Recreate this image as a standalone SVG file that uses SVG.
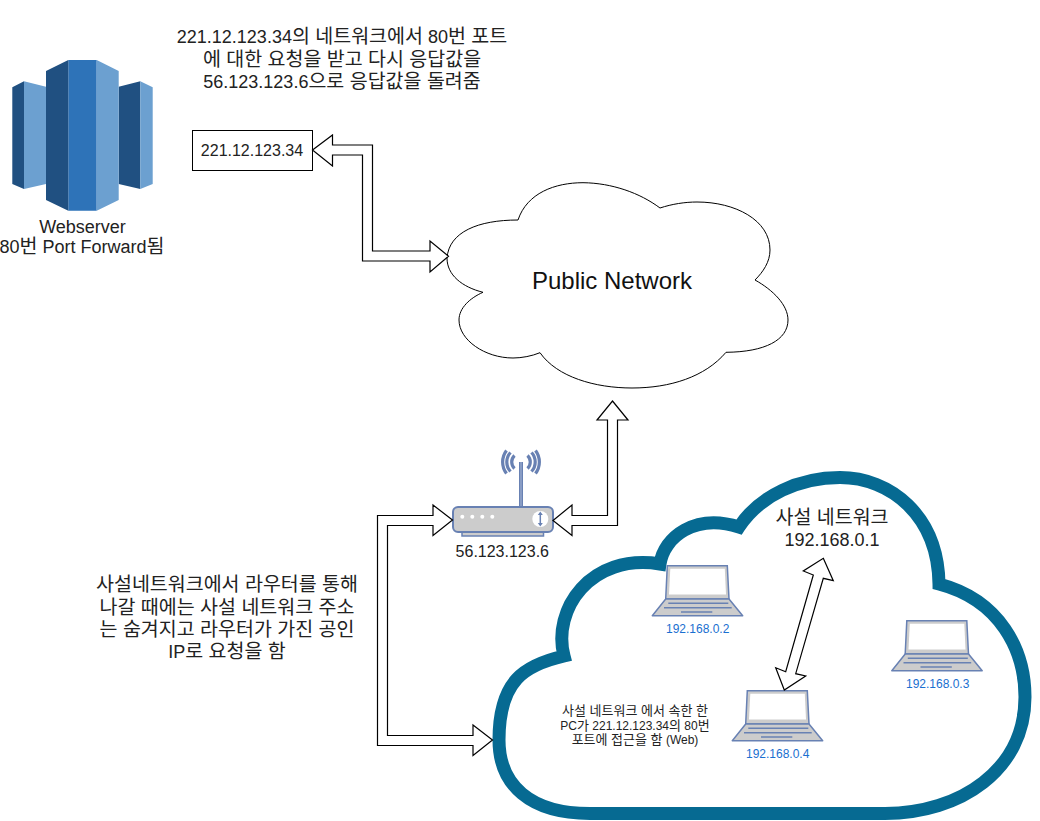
<svg xmlns="http://www.w3.org/2000/svg" width="1040" height="821" viewBox="0 0 1040 821">
<style>
text{font-family:"Liberation Sans","Noto Sans CJK KR",sans-serif;fill:#222;text-anchor:middle}
.t18{font-size:18px}.t16{font-size:16px}.t12{font-size:12px}.t24{font-size:24px;fill:#111}
.t18 .k{font-size:19.5px}.t12 .k{font-size:13px}
.ip{font-size:12px;fill:#1A6FD0}
.flex{fill:#fff;stroke:#000;stroke-width:1.2;stroke-linejoin:miter}
</style>
<defs>
<g id="laptop">
<path d="M15.3 .7H75.3L77 34H13.7Z" fill="#ccc" stroke="#6881B3" stroke-width="1.5"/>
<path d="M18.300 3.800H72.800L74 29.500H17Z" fill="#fff"/>
<path d="M13.7 34L.3 50.7H90.7L77 34Z" fill="#ccc" stroke="#6881B3" stroke-width="1.5" stroke-linejoin="round"/>
<path d="M16.3 38.3H76.3M12 42.7H79.7M29 47H60.3" fill="none" stroke="#6881B3" stroke-width="1.5"/>
</g>
</defs>
<g id="public-network">
<path d="M518 220C527 193 555 182.7 583 182.7C612 183 640 193 660 208C672 204 685 202 697 202C735 202 770 220 770 250C770 262 763 272 755 280C773 290 788 305 788 320C788 340 765 352 726 352.3C705 377 670 388 632 388C595 388 557 377 540 352.7C532 356 522 358 513 358C485 358 459 340 459 320C459 308 470 298 483 292.3C462 287 447 275 447 258C449 232 478 220 518 220Z" fill="#fff" stroke="#000" stroke-width="1"/>
<text class="t24" x="612" y="289">Public Network</text>
</g>
<g id="private-network">
<path d="M939 584C1000 600 1025 650 1025 697C1025 770 960 813.5 885 813.5L590 813.5C530 813.5 499 785 499 740C499 680 525 665 564 656C552 610 590 553 660 564C664 537 695 513 739 527C760 495 800 477.5 840 477.5C890 477.5 938 515 939 584Z" fill="#fff" stroke="#066A92" stroke-width="13" stroke-miterlimit="10"/>
<text class="t18" x="832" y="524"><tspan class="k">사설 네트워크</tspan></text>
<text class="t18" x="832" y="546">192.168.0.1</text>
<text class="t12" x="635" y="715"><tspan class="k">사설 네트워크 에서 속한 한</tspan></text>
<text class="t12" x="635" y="730">PC<tspan class="k">가</tspan> 221.12.123.34<tspan class="k">의</tspan> 80<tspan class="k">번</tspan></text>
<text class="t12" x="635" y="744"><tspan class="k">포트에 접근을 함</tspan> (Web)</text>
</g>
<g id="webserver">
<path d="M68.3 60H96.7V210.7H68.3Z" fill="#2E73B8"/>
<path d="M46 71L68.3 60V210.7L46 200ZM12.3 87.3L24 81.3V189L12.3 184ZM118.7 86.7L140.3 81.3V189L118.7 184Z" fill="#205081"/>
<path d="M96.7 60L118.7 71V200L96.7 210.7ZM24 81.3L46 86.7V184L24 189ZM140.3 81.3L152.7 87.3V184L140.3 189Z" fill="#6CA0D0"/>
<text class="t18" x="82.500" y="233">Webserver</text>
<text class="t18" x="82" y="253">80<tspan class="k">번</tspan> Port Forward<tspan class="k">됨</tspan></text>
</g>
<g id="server-ip">
<rect x="192.500" y="130.500" width="120" height="40" fill="#fff" stroke="#000" stroke-width="1"/>
<text class="t16" x="252" y="156">221.12.123.34</text>
</g>
<g id="router">
<path d="M521 462V507" fill="none" stroke="#6881B3" stroke-width="4"/>
<path d="M521 462V507" fill="none" stroke="#A9B8D6" stroke-width="1"/>
<g fill="none" stroke="#6881B3" stroke-width="3.200">
<path d="M514.500 455.500A9 9 0 0 0 514.500 468.500M527.500 455.500A9 9 0 0 1 527.500 468.500"/>
<path d="M510.500 452.500A14 14 0 0 0 510.500 471.500M531.500 452.500A14 14 0 0 1 531.500 471.500"/>
<path d="M506.500 450.500A19 19 0 0 0 506.500 473.500M535.500 450.500A19 19 0 0 1 535.500 473.500"/>
</g>
<rect x="462" y="531" width="81.500" height="5" fill="#ccc" stroke="#6881B3" stroke-width="1.500"/>
<rect x="453" y="507" width="100" height="25" rx="5" fill="#ccc" stroke="#6881B3" stroke-width="2"/>
<g fill="#fff"><circle cx="462.300" cy="516.700" r="2"/><circle cx="472.300" cy="516.700" r="2"/><circle cx="482.300" cy="516.700" r="2"/><circle cx="492.300" cy="516.700" r="2"/><circle cx="540.300" cy="519" r="8"/></g>
<path d="M540.300 513V525" stroke="#6881B3" stroke-width="1.500"/>
<path d="M537.800 515L540.300 511.500L542.800 515ZM537.800 523L540.300 526.500L542.800 523Z" fill="#6881B3"/>
<text class="t16" x="502.300" y="557">56.123.123.6</text>
</g>
<g id="laptop-2"><use href="#laptop" x="652" y="565"/><text class="ip" x="697.700" y="633">192.168.0.2</text></g>
<g id="laptop-3"><use href="#laptop" x="891.500" y="620"/><text class="ip" x="937.700" y="688">192.168.0.3</text></g>
<g id="laptop-4"><use href="#laptop" x="732" y="690"/><text class="ip" x="777.700" y="758">192.168.0.4</text></g>
<g id="notes">
<text class="t18" x="342" y="43">221.12.123.34<tspan class="k">의 네트워크에서</tspan> 80<tspan class="k">번 포트</tspan></text>
<text class="t18" x="342" y="66"><tspan class="k">에 대한 요청을 받고 다시 응답값을</tspan></text>
<text class="t18" x="342" y="88">56.123.123.6<tspan class="k">으로 응답값을 돌려줌</tspan></text>
<text class="t18" x="227" y="591"><tspan class="k">사설네트워크에서 라우터를 통해</tspan></text>
<text class="t18" x="227" y="614"><tspan class="k">나갈 때에는 사설 네트워크 주소</tspan></text>
<text class="t18" x="227" y="636"><tspan class="k">는 숨겨지고 라우터가 가진 공인</tspan></text>
<text class="t18" x="227" y="658">IP<tspan class="k">로 요청을 함</tspan></text>
</g>
<g id="connectors">
<path class="flex" d="M312.500 150L332.500 135V145H372.500V251H430V241L448.500 256.200L430 272V261H362.500V155H332.500V166Z"/>
<path class="flex" d="M612.500 401L628 420H617.500V525.500H572V535.500L553 520.500L572 505V515.500H607.500V420H597Z"/>
<path class="flex" d="M452.500 520L433 505V515.500H377.500V745.500H473V755.500L492.500 740L473 725V735.500H387.500V525.500H433V535.500Z"/>
<path class="flex" d="M823.300 558.300L833.300 580.700L823.300 578.300L795.700 673.700L805.700 676L784.300 690L775.700 667.700L785.700 671.700L813.300 575L803.300 571Z"/>
</g>
</svg>
